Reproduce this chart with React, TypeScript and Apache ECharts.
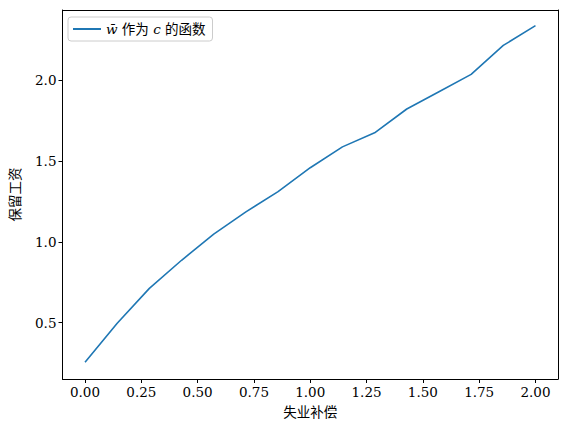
import React, { useEffect, useRef } from 'react'
import * as echarts from 'echarts'

// 失业补偿 c（15 个点，0 到 2）
const cValues: number[] = [0, 0.1429, 0.2857, 0.4286, 0.5714, 0.7143, 0.8571, 1.0, 1.1429, 1.2857, 1.4286, 1.5714, 1.7143, 1.8571, 2.0]
// 保留工资 w̄
const wBar: number[] = [0.255, 0.497, 0.712, 0.886, 1.047, 1.185, 1.31, 1.458, 1.587, 1.674, 1.821, 1.928, 2.035, 2.214, 2.336]
const xTicks: number[] = [0, 0.25, 0.5, 0.75, 1.0, 1.25, 1.5, 1.75, 2.0]
const yTicks: number[] = [0.5, 1.0, 1.5, 2.0]

const FONT = '"DejaVu Serif", "Liberation Serif", "Noto Sans CJK SC", serif'
const FS = 13.5

const App = () => {
  const chartRef: any = useRef(null)

  useEffect(() => {
    const chart = echarts.init(chartRef.current, null, { renderer: 'svg' })
    const axisBase = (ticks: number[], fmt: (v: number) => string) => ({
      type: 'value',
      splitLine: { show: false },
      axisLine: { show: true, onZero: false, lineStyle: { color: '#000', width: 1 } },
      axisTick: { show: true, customValues: ticks, length: 4, lineStyle: { color: '#000' } },
      axisLabel: {
        customValues: ticks, margin: 6, fontFamily: FONT, fontSize: FS, color: '#000',
        formatter: fmt
      },
      nameTextStyle: { fontFamily: FONT, fontSize: FS, color: '#000' }
    })
    // 上、右两条边框
    const borderAxis = {
      type: 'value',
      splitLine: { show: false },
      axisLine: { show: true, onZero: false, lineStyle: { color: '#000', width: 1 } },
      axisTick: { show: false },
      axisLabel: { show: false }
    }
    const options: any = {
      animation: false,
      backgroundColor: '#fff',
      textStyle: { fontFamily: FONT },
      grid: { left: 62, right: 9, top: 10, bottom: 54 },
      legend: {
        left: 68, top: 17,
        orient: 'vertical',
        backgroundColor: '#fff',
        borderColor: '#ccc',
        borderWidth: 1,
        borderRadius: 3,
        padding: [5, 7, 5, 5],
        itemWidth: 28,
        itemHeight: 2,
        icon: 'rect',
        data: ['w'],
        formatter: () => '{i|w̄} 作为 {i|c} 的函数',
        textStyle: {
          fontFamily: FONT, fontSize: FS, color: '#000',
          rich: { i: { fontStyle: 'italic', fontFamily: '"DejaVu Serif"', fontSize: FS } }
        }
      },
      xAxis: [
        {
          ...axisBase(xTicks, (v: number) => v.toFixed(2)),
          min: -0.1, max: 2.1,
          name: '失业补偿', nameLocation: 'middle', nameGap: 26
        },
        { ...borderAxis, position: 'top', min: -0.1, max: 2.1 }
      ],
      yAxis: [
        {
          ...axisBase(yTicks, (v: number) => v.toFixed(1)),
          min: 0.152, max: 2.433,
          name: '保留工资', nameLocation: 'middle', nameGap: 41
        },
        { ...borderAxis, position: 'right', min: 0.152, max: 2.433 }
      ],
      series: [
        {
          name: 'w',
          type: 'line',
          symbol: 'none',
          color: '#1f77b4',
          lineStyle: { width: 1.6, color: '#1f77b4' },
          data: cValues.map((c, i) => [c, wBar[i]])
        }
      ]
    }
    chart.setOption(options)
    return () => {
      chart.dispose()
    }
  }, [])

  return (
    <div
      ref={chartRef}
      style={{ position: 'absolute', left: 0, top: 0, width: 567, height: 433 }}
    ></div>
  )
}
export default App
